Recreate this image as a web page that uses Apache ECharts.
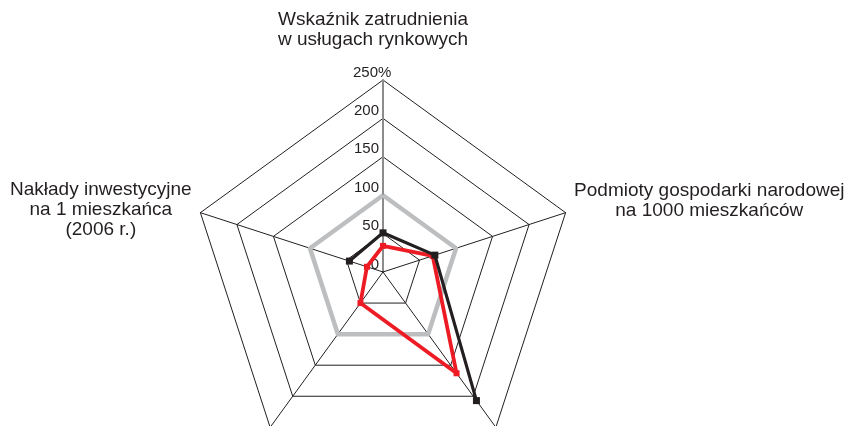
<!DOCTYPE html>
<html>
<head>
<meta charset="utf-8">
<script src="https://cdn.jsdelivr.net/npm/echarts@6/dist/echarts.min.js"></script>
<style>
html, body { margin: 0; padding: 0; background: #fff; }
#chart { width: 851px; height: 426px; }
</style>
</head>
<body>
<div id="chart"></div>
<script>
// indicators go counter-clockwise from the top (radar order)
var indicatorNames = [
    'Wskaźnik zatrudnienia\nw usługach rynkowych',
    'Nakłady inwestycyjne\nna 1 mieszkańca\n(2006 r.)',
    '',
    '',
    'Podmioty gospodarki narodowej\nna 1000 mieszkańców'
];
var axisMax = 250;
var tickLabels = ['0', '50', '100', '150', '200', '250%'];
// 100 = reference level (gray ring)
var baseValues = [100, 100, 100, 100, 100];
var redValues = [34, 22, 50, 163, 68];
// black series has no value for the bottom-left axis
var blackValues = [51, 46, null, 207, 71];

var ink = '#231f20';
var font = 'Liberation Sans';

var chart = echarts.init(document.getElementById('chart'));

// open polyline for the black series: start right after the missing value
var blackPoints = [];
var miss = blackValues.indexOf(null);
for (var k = 1; k < blackValues.length; k++) {
    var i = (miss + k) % blackValues.length;
    blackPoints.push([blackValues[i], i * 360 / blackValues.length]);
}

// name gap + padding so multi-line names are centred like the original
var nameStyles = [
    { gap: 30, style: { align: 'center', padding: [0, 20, 0, 0] } },
    { gap: 9, style: { align: 'center', verticalAlign: 'middle', padding: [0, 182, 0, 0] } },
    { gap: 8, style: {} },
    { gap: 8, style: {} },
    { gap: 37, style: { align: 'center', verticalAlign: 'middle', padding: [0, 0, 0, 217] } }
];

var indicators = indicatorNames.map(function (n, idx) {
    var ind = {
        name: n,
        min: 0,
        max: axisMax,
        nameGap: nameStyles[idx].gap,
        nameTextStyle: nameStyles[idx].style
    };
    if (idx === 0) {
        ind.axisLine = { lineStyle: { color: '#8c8c8c', width: 2 } };
        ind.axisLabel = {
            show: true,
            margin: 4,
            align: 'right',
            verticalAlign: 'bottom',
            color: ink,
            fontFamily: font,
            fontSize: 15,
            formatter: function (v) {
                var t = tickLabels[Math.round(v / 50)];
                if (t.indexOf('%') > 0) {
                    return '{n|' + t.replace('%', '') + '}{p|%}';
                }
                return '{n|' + t + '}';
            },
            rich: {
                n: { fontFamily: font, fontSize: 15, color: ink, align: 'left' },
                p: { fontFamily: font, fontSize: 15, color: ink, width: 1, align: 'left' }
            }
        };
    }
    return ind;
});

var option = {
    animation: false,
    radar: {
        center: [383, 272],
        radius: 192,
        startAngle: 90,
        shape: 'polygon',
        splitNumber: 5,
        indicator: indicators,
        axisName: { color: ink, fontFamily: font, fontSize: 19, lineHeight: 20 },
        axisLine: { lineStyle: { color: ink, width: 1 } },
        axisTick: { show: false },
        axisLabel: { show: false },
        splitLine: { lineStyle: { color: ink, width: 1 } },
        splitArea: { show: false }
    },
    polar: { center: [383, 272], radius: 192 },
    angleAxis: { type: 'value', min: 0, max: 360, startAngle: 90, clockwise: false, show: false },
    radiusAxis: { type: 'value', min: 0, max: axisMax, show: false },
    series: [
        {
            type: 'radar',
            silent: true,
            symbol: 'none',
            lineStyle: { color: '#bcbec0', width: 4.5 },
            data: [{ value: baseValues }]
        },
        {
            type: 'line',
            coordinateSystem: 'polar',
            silent: true,
            symbol: 'rect',
            symbolSize: 7,
            itemStyle: { color: ink },
            lineStyle: { color: ink, width: 3.2 },
            data: blackPoints
        },
        {
            type: 'radar',
            silent: true,
            symbol: 'rect',
            symbolSize: 6,
            itemStyle: { color: '#ed1c24' },
            lineStyle: { color: '#ed1c24', width: 3.8 },
            data: [{ value: redValues }]
        }
    ]
};

chart.setOption(option);
</script>
</body>
</html>
